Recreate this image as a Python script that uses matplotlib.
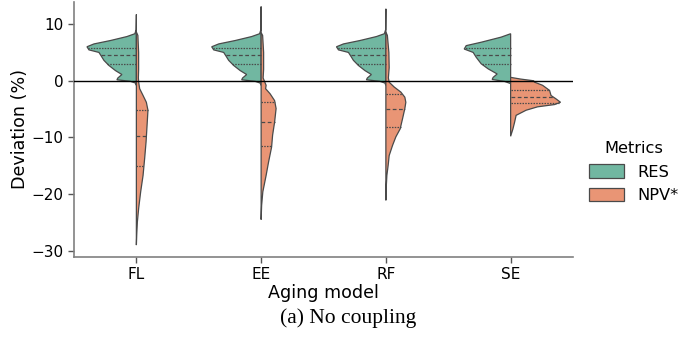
import matplotlib
matplotlib.use("Agg")
import matplotlib.pyplot as plt
from matplotlib.patches import Patch
import numpy as np

# aging models on the x axis
models = ["FL", "EE", "RF", "SE"]
metrics = ["RES", "NPV*"]

# density profiles: deviation (%) and relative density (1 = widest)
res_fl_y = [11.7, 9.0, 8.3, 7.8, 7.1, 6.5, 6.0, 5.45, 5.0, 4.45, 3.6, 2.7, 1.8, 1.1, 0.5, 0.17, -0.1, -0.4, -0.8]
res_fl_d = [0.0, 0.005, 0.03, 0.19, 0.52, 0.85, 0.99, 0.95, 0.75, 0.71, 0.65, 0.55, 0.42, 0.29, 0.37, 0.39, 0.12, 0.02, 0.0]
res_ee_y = [13.1, 9.0, 8.3, 7.8, 7.1, 6.5, 6.0, 5.45, 5.0, 4.45, 3.6, 2.7, 1.8, 1.1, 0.5, 0.17, -0.1, -0.4, -0.8]
res_ee_d = [0.0, 0.005, 0.03, 0.19, 0.52, 0.85, 0.99, 0.95, 0.75, 0.71, 0.65, 0.55, 0.42, 0.29, 0.37, 0.39, 0.12, 0.02, 0.0]
res_rf_y = [12.7, 9.0, 8.3, 7.8, 7.1, 6.5, 6.0, 5.45, 5.0, 4.45, 3.6, 2.7, 1.8, 1.1, 0.5, 0.17, -0.1, -0.4, -0.8]
res_rf_d = [0.0, 0.005, 0.03, 0.19, 0.52, 0.85, 0.99, 0.95, 0.75, 0.71, 0.65, 0.55, 0.42, 0.29, 0.37, 0.39, 0.12, 0.02, 0.0]
res_se_y = [8.3, 7.7, 6.8, 6.2, 5.6, 5.0, 4.15, 3.0, 2.1, 1.2, 0.6, 0.23, -0.12, -0.5]
res_se_d = [0.0, 0.19, 0.59, 0.89, 0.93, 0.75, 0.69, 0.59, 0.45, 0.27, 0.35, 0.37, 0.12, 0.0]

npv_fl_y = [8.6, 8.0, 5.0, 2.0, 0.5, -0.25, -1.4, -2.6, -3.8, -5.2, -7.9, -10.8, -13.7, -16.7, -19.6, -22.5, -24.9, -27.0, -29.0]
npv_fl_d = [0.0, 0.03, 0.045, 0.045, 0.04, 0.046, 0.066, 0.134, 0.2, 0.232, 0.214, 0.194, 0.166, 0.134, 0.086, 0.046, 0.02, 0.008, 0.0]
npv_ee_y = [8.5, 8.0, 5.0, 2.0, 0.5, -0.8, -1.4, -2.3, -3.5, -4.9, -7.3, -9.6, -11.7, -14.3, -16.7, -19.6, -22.0, -24.5]
npv_ee_d = [0.0, 0.03, 0.05, 0.05, 0.04, 0.1, 0.09, 0.18, 0.27, 0.30, 0.27, 0.23, 0.21, 0.15, 0.10, 0.034, 0.01, 0.0]
npv_rf_y = [8.6, 8.0, 5.0, 2.3, 0.5, -0.25, -1.1, -2.0, -2.9, -3.8, -4.9, -6.7, -8.5, -9.9, -11.4, -13.2, -14.9, -16.7, -19.0, -21.1]
npv_rf_d = [0.0, 0.03, 0.06, 0.066, 0.05, 0.066, 0.166, 0.3, 0.38, 0.4, 0.38, 0.334, 0.286, 0.2, 0.134, 0.066, 0.046, 0.02, 0.006, 0.0]
npv_se_y = [0.6, 0.3, 0.0, -0.25, -0.8, -1.7, -2.6, -3.2, -3.8, -4.2, -4.6, -5.2, -6.1, -7.3, -8.5, -9.8]
npv_se_d = [0.0, 0.2, 0.46, 0.48, 0.64, 0.78, 0.81, 0.91, 1.0, 0.88, 0.54, 0.31, 0.11, 0.08, 0.046, 0.0]

# 25th, 50th, 75th percentiles
res_quartiles = [[2.99, 4.58, 5.74], [2.99, 4.58, 5.74], [2.99, 4.58, 5.74], [2.99, 4.58, 5.74]]
npv_quartiles = [[-15.1, -9.7, -5.1], [-11.6, -7.2, -3.7], [-8.2, -5.0, -2.3], [-3.9, -2.8, -1.6]]

res_profiles = [(res_fl_y, res_fl_d), (res_ee_y, res_ee_d), (res_rf_y, res_rf_d), (res_se_y, res_se_d)]
npv_profiles = [(npv_fl_y, npv_fl_d), (npv_ee_y, npv_ee_d), (npv_rf_y, npv_rf_d), (npv_se_y, npv_se_d)]

GREEN = "#71b7a1"
ORANGE = "#e99575"
EDGE = "#4a4a4a"
HALF = 0.4


def draw_half(ax, pos, ys, dens, side, color, quartiles):
    ys = np.asarray(ys)
    w = np.asarray(dens) * HALF * side
    xs = np.concatenate([pos + w, [pos, pos]])
    yy = np.concatenate([ys, [ys[-1], ys[0]]])
    ax.fill(xs, yy, facecolor=color, edgecolor=EDGE, linewidth=0.9, zorder=2)
    order = np.argsort(ys)
    for i, q in enumerate(quartiles):
        edge = np.interp(q, ys[order], w[order])
        if i == 1:
            dashes = (3.0, 2.0)
        else:
            dashes = (1.2, 1.0)
        ax.plot([pos, pos + edge], [q, q], color=EDGE, linewidth=0.9,
                dashes=dashes, zorder=3)


fig = plt.figure(figsize=(6.94, 3.39), dpi=100)
ax = fig.add_axes([74 / 694, 1 - 256.7 / 339, (573 - 74) / 694, (256.7 - 2) / 339])

for i, m in enumerate(models):
    ry, rd = res_profiles[i]
    ny, nd = npv_profiles[i]
    draw_half(ax, i, ry, rd, -1, GREEN, res_quartiles[i])
    draw_half(ax, i, ny, nd, 1, ORANGE, npv_quartiles[i])

ax.axhline(0, color="black", linewidth=1.0, zorder=4)

ax.set_xlim(-0.5, 3.5)
ax.set_ylim(-31.05, 13.9)
ax.set_xticks(range(len(models)))
ax.set_xticklabels(models)
ax.set_yticks([10, 0, -10, -20, -30])
ax.tick_params(labelsize=11, length=4, width=1, color="#555555")
ax.set_xlabel("Aging model", fontsize=12.6, labelpad=1)
ax.set_ylabel("Deviation (%)", fontsize=12.6, labelpad=2)
for side in ["top", "right"]:
    ax.spines[side].set_visible(False)
for side in ["left", "bottom"]:
    ax.spines[side].set_color("#808080")
    ax.spines[side].set_linewidth(1.2)

handles = [Patch(facecolor=GREEN, edgecolor=EDGE, linewidth=0.9),
           Patch(facecolor=ORANGE, edgecolor=EDGE, linewidth=0.9)]
leg = fig.legend(handles, metrics, title="Metrics", loc="center left",
                 bbox_to_anchor=(574 / 694, 1 - 172 / 339), frameon=False,
                 fontsize=11.7, title_fontsize=11.7, handlelength=2.2,
                 handleheight=0.9)

fig.text(0.502, 1 - 318 / 339, "(a) No coupling", ha="center", va="center",
         family=["Liberation Serif", "DejaVu Serif"], fontsize=15.5)

fig.savefig("out.png", dpi=100)
